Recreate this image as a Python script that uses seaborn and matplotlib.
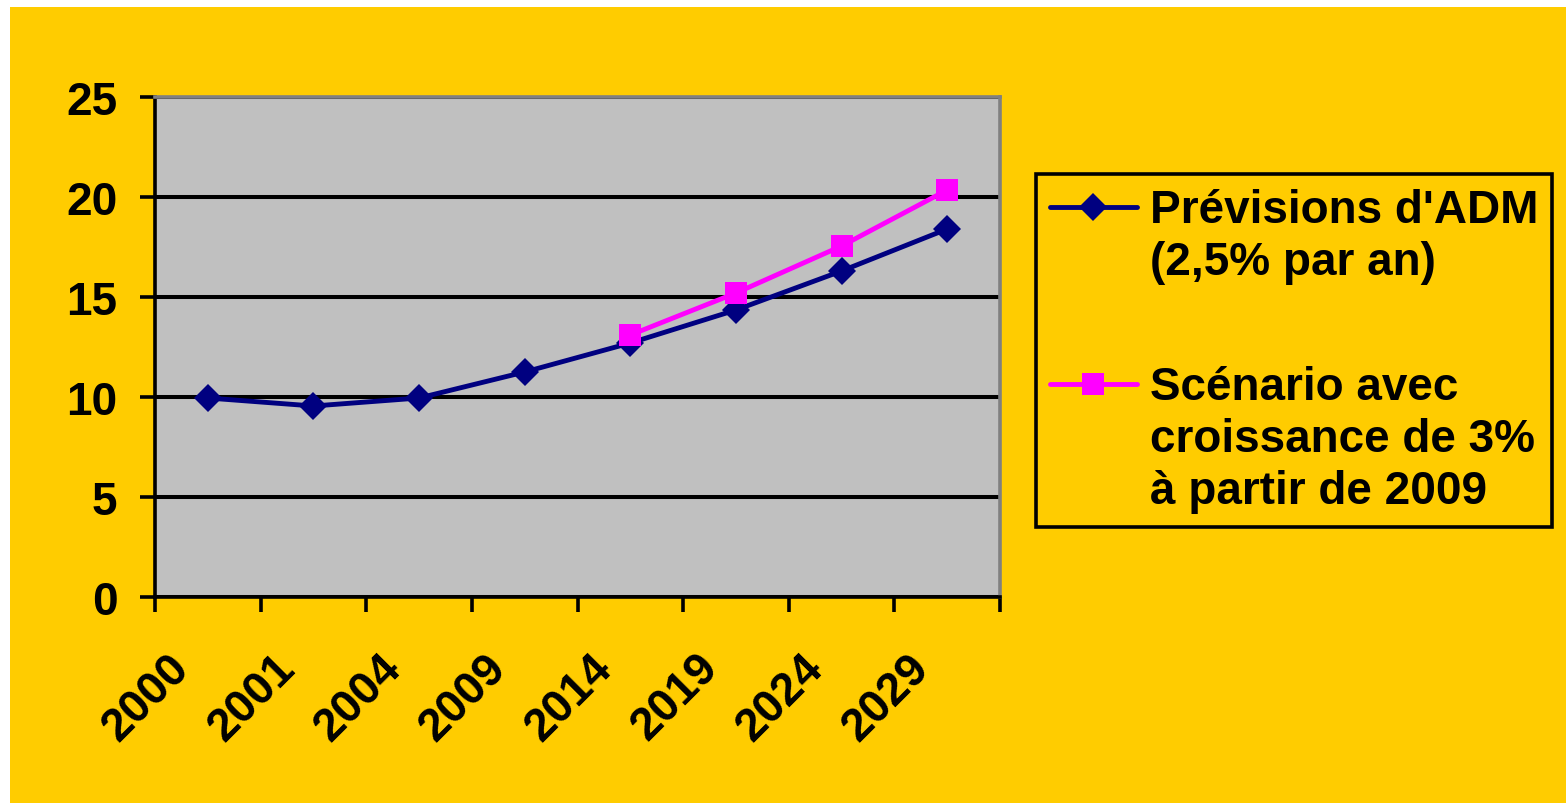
import matplotlib
matplotlib.use('Agg')
import matplotlib.pyplot as plt
import matplotlib.transforms as mtransforms
import seaborn as sns
import numpy as np
import pandas as pd
from matplotlib.patches import Rectangle
from matplotlib.ticker import FixedLocator

# données
annees = ['2000', '2001', '2004', '2009', '2014', '2019', '2024', '2029']
previsions_adm = [9.95, 9.55, 9.95, 11.25, 12.7, 14.35, 16.3, 18.4]
scenario_3pct = [np.nan, np.nan, np.nan, np.nan, 13.1, 15.2, 17.55, 20.35]
noms_series = ["Prévisions d'ADM\n(2,5% par an)",
               "Scénario avec\ncroissance de 3%\nà partir de 2009"]
y_ticks = [0, 5, 10, 15, 20, 25]

df = pd.DataFrame({
    'annee': annees * 2,
    'valeur': previsions_adm + scenario_3pct,
    'serie': [noms_series[0]] * len(annees) + [noms_series[1]] * len(annees),
}).dropna()

sns.set_theme(style='white')
plt.rcParams['font.family'] = ['Liberation Sans', 'DejaVu Sans']
plt.rcParams['font.weight'] = 'bold'
for k in ['text.color', 'xtick.color', 'ytick.color', 'axes.labelcolor']:
    plt.rcParams[k] = 'black'

TAILLE = 33
TAILLES_MARQUEURS = [14, 16.5]

fig = plt.figure(figsize=(15.66, 8.04), dpi=100, facecolor='white')
# fond jaune (petite marge blanche en haut et à gauche)
fig.patches.append(Rectangle((10 / 1566, -0.01), 1.01, 1.01 - 8 / 804,
                             transform=fig.transFigure, facecolor='#FFCC00',
                             edgecolor='none', zorder=-5))

ax = fig.add_axes([155 / 1566, (804 - 598) / 804, 845 / 1566, 500 / 804])
ax.set_facecolor('#C0C0C0')

couleurs = {noms_series[0]: '#000080', noms_series[1]: '#FF00FF'}
sns.lineplot(data=df, x='annee', y='valeur', hue='serie', style='serie',
             palette=couleurs, markers={noms_series[0]: 'D', noms_series[1]: 's'},
             dashes=False, linewidth=3.5, markeredgewidth=0, sort=False, ax=ax)
for ln, ms in zip(ax.lines, TAILLES_MARQUEURS):
    ln.set_markersize(ms)

ax.set_xlim(-0.5, len(annees) - 0.5)
ax.set_ylim(0, 25)
ax.set_yticks(y_ticks)
ax.set_yticklabels([str(v) for v in y_ticks])
ax.yaxis.grid(True, color='black', linewidth=2.9)
ax.set_axisbelow(True)
ax.set_xlabel('')
ax.set_ylabel('')

# graduations entre les catégories, étiquettes au centre
ax.set_xticks(range(len(annees)))
ax.set_xticklabels(annees, rotation=45, ha='right', va='center',
                   rotation_mode='anchor', fontsize=TAILLE, fontweight='bold')
ax.xaxis.set_minor_locator(FixedLocator(np.arange(-0.5, len(annees), 1)))
ax.tick_params(axis='x', which='major', length=0, pad=30)
ax.tick_params(axis='x', which='minor', length=11, width=2.6, color='black',
               direction='out', bottom=True)
ax.tick_params(axis='y', length=11, width=2.6, color='black', direction='out',
               left=True, labelsize=TAILLE, pad=16)
for lbl in ax.get_yticklabels():
    lbl.set_fontweight('bold')
# décalage des étiquettes inclinées (style Excel)
decalage = mtransforms.ScaledTranslation(-0.25, -0.22, fig.dpi_scale_trans)
for lbl in ax.get_xticklabels():
    lbl.set_transform(lbl.get_transform() + decalage)

for side in ['left', 'bottom']:
    ax.spines[side].set_color('black')
    ax.spines[side].set_linewidth(2.6)
for side in ['top', 'right']:
    ax.spines[side].set_color('#808080')
    ax.spines[side].set_linewidth(2.6)

leg = ax.legend(loc='upper left', bbox_to_anchor=(1036 / 1566, 1 - 175 / 804),
                bbox_transform=fig.transFigure, frameon=True, fancybox=False,
                edgecolor='black', facecolor='#FFCC00', framealpha=1,
                prop={'size': TAILLE, 'weight': 'bold'}, handlelength=1.9,
                handleheight=1.1, handletextpad=0.28, labelspacing=1.78,
                borderpad=0.3, borderaxespad=0)
leg.get_frame().set_linewidth(2.6)
for h, ms in zip(leg.legend_handles, TAILLES_MARQUEURS):
    h.set_markersize(ms)
for t in leg.get_texts():
    t.set_linespacing(1.23)
# symbole aligné sur la première ligne du libellé
for col in leg._legend_handle_box.get_children():
    for row in col.get_children():
        row.align = 'top'

fig.savefig('out.png', dpi=100, facecolor=fig.get_facecolor())
